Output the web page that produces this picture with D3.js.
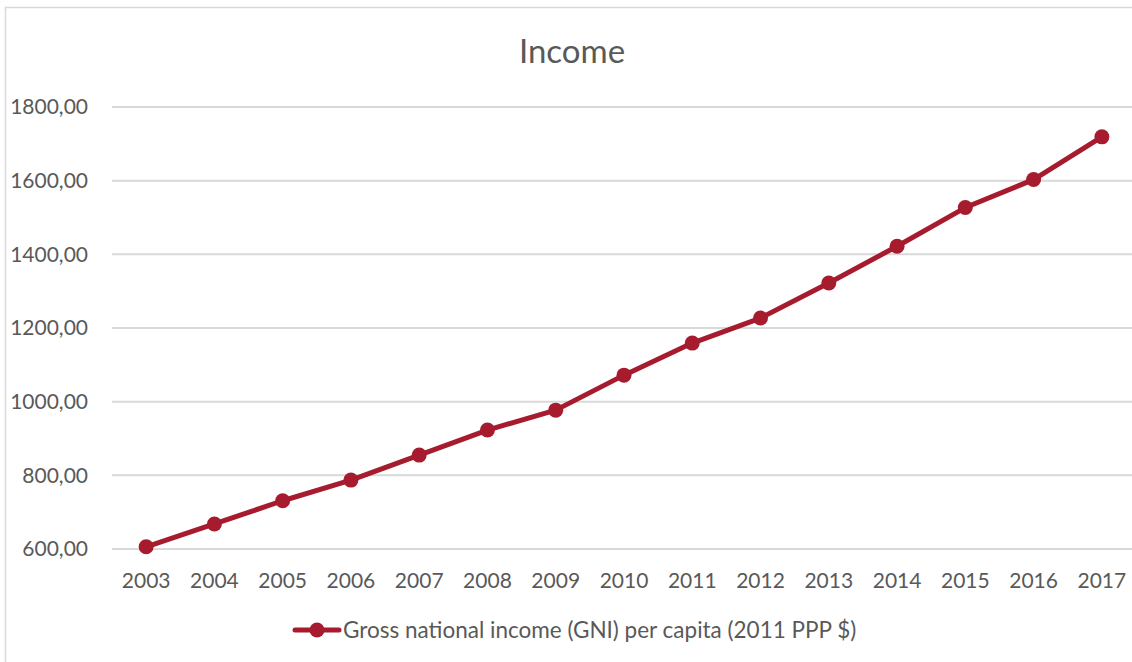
<!DOCTYPE html>
<html>
<head>
<meta charset="utf-8">
<script src="https://cdn.jsdelivr.net/npm/d3@7"></script>
<style>
  html, body { margin: 0; padding: 0; background: #fff; }
  svg { display: block; }
  text { font-family: Lato, "Open Sans", sans-serif; fill: #595959; }
</style>
</head>
<body>
<svg id="chart" width="1132" height="662"></svg>
<script>
// GNI per capita, 2011 PPP $
const years = ["2003","2004","2005","2006","2007","2008","2009","2010","2011","2012","2013","2014","2015","2016","2017"];
const gni = [606, 668, 731, 787, 855, 923, 977, 1072, 1159, 1227, 1322, 1422, 1527, 1603, 1719];
const yTicks = [600, 800, 1000, 1200, 1400, 1600, 1800];
const seriesName = "Gross national income (GNI) per capita (2011 PPP $)";
const chartTitle = "Income";

const svg = d3.select("#chart");
const lineColor = "#a61c2e";
const gridColor = "#d9d9d9";

// outer chart frame
svg.append("rect")
  .attr("x", 5.5).attr("y", 7.5)
  .attr("width", 1140).attr("height", 670)
  .attr("fill", "none").attr("stroke", gridColor).attr("stroke-width", 1.5);

const plot = { left: 112, right: 1136, top: 107, bottom: 549 };

const x = d3.scaleBand().domain(years).range([plot.left, plot.right]);
const y = d3.scaleLinear().domain([600, 1800]).range([plot.bottom, plot.top]);

// horizontal gridlines
svg.append("g")
  .selectAll("line")
  .data(yTicks)
  .join("line")
  .attr("x1", plot.left).attr("x2", plot.right)
  .attr("y1", d => y(d)).attr("y2", d => y(d))
  .attr("stroke", gridColor).attr("stroke-width", 2);

// y axis labels
const fmt = d => d3.format(".2f")(d).replace(".", ",");
const yAxis = svg.append("g")
  .attr("transform", `translate(${plot.left - 24},0)`)
  .call(d3.axisLeft(y).tickValues(yTicks).tickFormat(fmt).tickSize(0).tickPadding(0));
yAxis.select(".domain").remove();
yAxis.selectAll("text").attr("font-size", 21).style("font-family", "Lato, sans-serif").attr("fill", "#595959");

// x axis labels
const xAxis = svg.append("g")
  .attr("transform", `translate(0,${plot.bottom + 24})`)
  .call(d3.axisBottom(x).tickSize(0).tickPadding(0));
xAxis.select(".domain").remove();
xAxis.selectAll("text").attr("font-size", 21).attr("dy", "0.71em").style("font-family", "Lato, sans-serif").attr("fill", "#595959");

// series line and markers
const line = d3.line()
  .x((d, i) => x(years[i]) + x.bandwidth() / 2)
  .y(d => y(d));

svg.append("path")
  .datum(gni)
  .attr("d", line)
  .attr("fill", "none")
  .attr("stroke", lineColor)
  .attr("stroke-width", 5)
  .attr("stroke-linejoin", "round")
  .attr("stroke-linecap", "round");

svg.append("g")
  .selectAll("circle")
  .data(gni)
  .join("circle")
  .attr("cx", (d, i) => x(years[i]) + x.bandwidth() / 2)
  .attr("cy", d => y(d))
  .attr("r", 7.5)
  .attr("fill", lineColor);

// title
svg.append("text")
  .attr("x", 572).attr("y", 63)
  .attr("text-anchor", "middle")
  .attr("font-size", 33)
  .text(chartTitle);

// legend
const lg = svg.append("g").attr("transform", "translate(0,630)");
lg.append("line")
  .attr("x1", 295).attr("x2", 339).attr("y1", 0).attr("y2", 0)
  .attr("stroke", lineColor).attr("stroke-width", 5).attr("stroke-linecap", "round");
lg.append("circle").attr("cx", 317).attr("cy", 0).attr("r", 7.5).attr("fill", lineColor);
lg.append("text")
  .attr("x", 343).attr("y", 0).attr("dy", "0.35em")
  .attr("font-size", 22.5)
  .text(seriesName);
</script>
</body>
</html>
